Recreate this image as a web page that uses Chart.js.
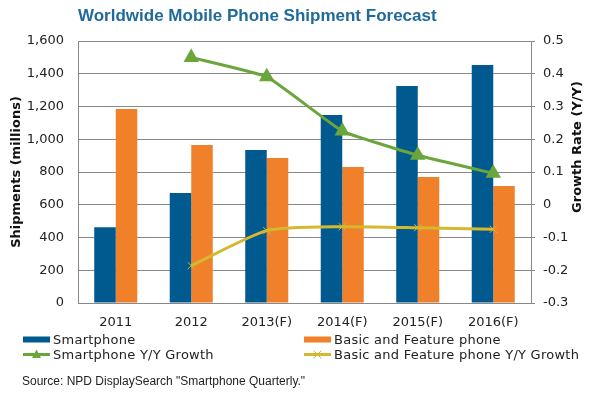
<!DOCTYPE html>
<html>
<head>
<meta charset="utf-8">
<script src="https://cdn.jsdelivr.net/npm/chart.js@4"></script>
<style>
  body { margin: 0; background: #fff; }
  #wrap { position: relative; width: 593px; height: 400px; overflow: hidden; }
  #title { position: absolute; left: 78px; top: 6px; font: bold 17px "Liberation Sans", Arial, sans-serif; color: #1f6a9a; white-space: nowrap; }
  .leg { position: absolute; font: 13px "DejaVu Sans", Verdana, sans-serif; letter-spacing: 0.25px; line-height: 15px; color: #222; white-space: nowrap; display: flex; align-items: center; }
  .leg svg { margin-right: 3px; }
  #source { position: absolute; left: 22px; top: 374px; font: 12px "Liberation Sans", Arial, sans-serif; color: #222; white-space: nowrap; }
</style>
</head>
<body>
<div id="wrap">
  <canvas id="myChart" width="593" height="400"></canvas>
  <div id="title">Worldwide Mobile Phone Shipment Forecast</div>
  <div class="leg" style="left:23px; top:332px;"><svg width="27" height="15"><rect x="0" y="4.5" width="27" height="6" fill="#005a8f"/></svg>Smartphone</div>
  <div class="leg" style="left:304px; top:332px;"><svg width="27" height="15"><rect x="0" y="4.5" width="27" height="6" fill="#f0802a"/></svg>Basic and Feature phone</div>
  <div class="leg" style="left:23px; top:347px;"><svg width="27" height="15"><line x1="0" y1="7.5" x2="27" y2="7.5" stroke="#6aa63c" stroke-width="3"/><polygon points="13.5,2.5 18,11 9,11" fill="#6aa63c"/></svg>Smartphone Y/Y Growth</div>
  <div class="leg" style="left:304px; top:347px;"><svg width="27" height="15"><line x1="0" y1="7.5" x2="27" y2="7.5" stroke="#d6b82e" stroke-width="3"/><path d="M9.5 3.5 L17.5 11.5 M17.5 3.5 L9.5 11.5" stroke="#d6b82e" stroke-width="1"/></svg>Basic and Feature phone Y/Y Growth</div>
  <div id="source">Source: NPD DisplaySearch "Smartphone Quarterly."</div>
</div>
<script>
const ctx = document.getElementById('myChart');

// Données
const years = ['2011', '2012', '2013(F)', '2014(F)', '2015(F)', '2016(F)'];
const smartphone = [462, 672, 934, 1148, 1325, 1453];
const basicPhone = [1185, 965, 886, 830, 770, 714];
const smartGrowth = [null, 0.45, 0.391, 0.225, 0.151, 0.096];
const basicGrowth = [null, -0.186, -0.079, -0.067, -0.07, -0.075];

const tickFont = { family: 'DejaVu Sans', size: 13 };

// titre de l'axe droit, lu de bas en haut
const rightTitle = {
    id: 'rightTitle',
    afterDraw(chart) {
        const c = chart.ctx;
        c.save();
        c.translate(578, 147);
        c.rotate(-Math.PI / 2);
        c.font = 'bold 13px "DejaVu Sans"';
        c.fillStyle = '#111';
        c.textAlign = 'center';
        c.textBaseline = 'middle';
        c.fillText('Growth Rate (Y/Y)', 0, 0);
        c.restore();
    }
};

const myChart = new Chart(ctx, {
    data: {
        labels: years,
        datasets: [
            {
                type: 'line',
                label: 'Smartphone Y/Y Growth',
                data: smartGrowth,
                yAxisID: 'y1',
                borderColor: '#6aa63c',
                backgroundColor: '#6aa63c',
                borderWidth: 3,
                pointStyle: 'triangle',
                pointRadius: 6,
                tension: 0.1,
                order: 0
            },
            {
                type: 'line',
                label: 'Basic and Feature phone Y/Y Growth',
                data: basicGrowth,
                yAxisID: 'y1',
                borderColor: '#d6b82e',
                backgroundColor: '#d6b82e',
                borderWidth: 3,
                pointStyle: 'crossRot',
                pointRadius: 5,
                pointBorderWidth: 1,
                tension: 0.2,
                order: 0
            },
            {
                type: 'bar',
                label: 'Smartphone',
                data: smartphone,
                backgroundColor: '#005a8f',
                categoryPercentage: 0.57,
                barPercentage: 1,
                order: 1
            },
            {
                type: 'bar',
                label: 'Basic and Feature phone',
                data: basicPhone,
                backgroundColor: '#f0802a',
                categoryPercentage: 0.57,
                barPercentage: 1,
                order: 1
            }
        ]
    },
    plugins: [rightTitle],
    options: {
        responsive: false,
        animation: false,
        layout: { padding: { top: 41, left: 9, right: 0, bottom: 0 } },
        plugins: {
            legend: { display: false },
            tooltip: { enabled: false }
        },
        scales: {
            x: {
                grid: { display: false },
                border: { color: '#888' },
                ticks: { font: tickFont, color: '#222', padding: 4, maxRotation: 0 },
                afterFit: s => { s.height = 97; }
            },
            y: {
                position: 'left',
                min: 0,
                max: 1600,
                ticks: { stepSize: 200, font: tickFont, color: '#222', padding: 14 },
                grid: { color: '#888', drawTicks: false },
                border: { color: '#888' },
                title: { display: true, text: 'Shipments (millions)', font: { family: 'DejaVu Sans', size: 13, weight: 'bold' }, color: '#111', padding: 0 },
                afterFit: s => { s.width = 69; }
            },
            y1: {
                position: 'right',
                min: -0.3,
                max: 0.5,
                ticks: {
                    stepSize: 0.1,
                    font: tickFont,
                    color: '#222',
                    padding: 8,
                    callback: v => String(Math.round(v * 10) / 10)
                },
                grid: { drawOnChartArea: false, color: '#888', tickLength: 4 },
                border: { color: '#888' },
                afterFit: s => { s.width = 62; }
            }
        }
    }
});
</script>
</body>
</html>
